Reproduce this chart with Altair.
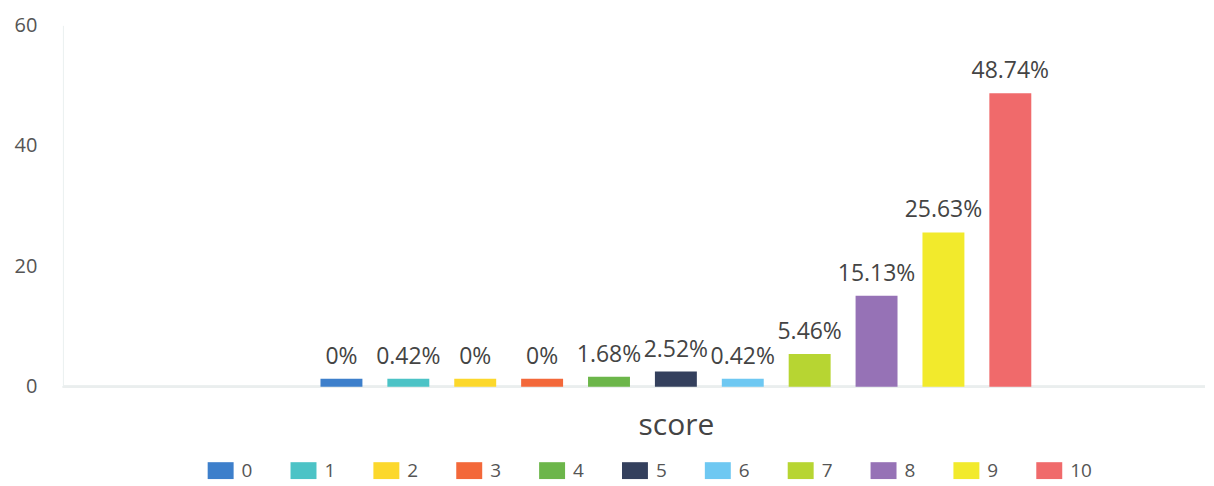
import altair as alt
import pandas as pd

scores = ["0", "1", "2", "3", "4", "5", "6", "7", "8", "9", "10"]
pcts = [0, 0.42, 0, 0, 1.68, 2.52, 0.42, 5.46, 15.13, 25.63, 48.74]
colors = ["#3d7fcb", "#4cc3c6", "#fcd82c", "#f3683a", "#6cb64a", "#34405d",
          "#6ec8f2", "#b7d532", "#9672b6", "#f2ea2c", "#f06a6b"]
y_ticks = [0, 20, 40, 60]

df = pd.DataFrame({"score": scores, "pct": pcts})

FONT = "Open Sans"

base = alt.Chart(df).transform_calculate(
    shown="max(datum.pct, 1.35)",
    label="datum.pct + '%'",
)

x_enc = alt.X(
    "score:N",
    sort=scores,
    scale=alt.Scale(range=[258, 970], paddingInner=0.373, paddingOuter=0),
    axis=alt.Axis(labels=False, ticks=False, domain=False, title="score",
                  titleFontSize=30, titleFont=FONT, titleColor="#444",
                  titleFontWeight="normal", titlePadding=24),
)
y_enc = alt.Y(
    "shown:Q",
    scale=alt.Scale(domain=[0, 60]),
    axis=alt.Axis(values=y_ticks, title=None, ticks=False, grid=False,
                  domainColor="#eaf0f0", labelFontSize=20, labelColor="#555",
                  labelPadding=26, labelFont=FONT),
)

rule = alt.Chart(df).mark_rule(color="#eaeeee", strokeWidth=2).encode(
    y=alt.datum(0)
)

bars = base.mark_bar().encode(
    x=x_enc,
    y=y_enc,
    color=alt.Color(
        "score:N",
        sort=scores,
        scale=alt.Scale(domain=scores, range=colors),
        legend=alt.Legend(
            orient="none", legendX=145, legendY=433, direction="horizontal",
            title=None, symbolType="M-1,-0.65H1V0.65H-1Z", symbolSize=676,
            labelFontSize=19, labelColor="#555", labelFont=FONT,
            columnPadding=38, labelOffset=8, symbolStrokeWidth=0,
            symbolOpacity=1,
        ),
    ),
)

text = base.mark_text(dy=-15, baseline="alphabetic", fontSize=23,
                      color="#444", font=FONT).encode(
    x=alt.X("score:N", sort=scores),
    y="shown:Q",
    text="label:N",
)

chart = alt.layer(rule, bars, text).properties(
    width=1144, height=362,
    padding={"left": 6, "top": 7, "right": 0, "bottom": 4},
).configure_view(stroke=None)

chart.save("out.html", embed_options={"renderer": "svg", "actions": False})
